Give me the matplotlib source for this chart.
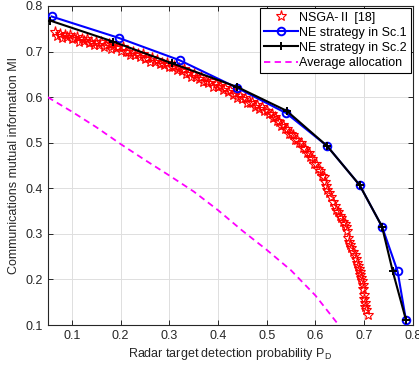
import numpy as np
import matplotlib
matplotlib.use("Agg")
import matplotlib.pyplot as plt

plt.rcParams["font.family"] = ["Liberation Sans", "Noto Sans CJK SC", "DejaVu Sans"]
plt.rcParams["mathtext.fontset"] = "custom"
plt.rcParams["mathtext.rm"] = "Liberation Sans"

# NSGA-II Pareto front (red stars)
nsga_x = [
    0.065, 0.070, 0.075, 0.080, 0.085, 0.090, 0.095, 0.100, 0.105, 0.110, 0.115, 0.120, 0.125,
    0.130, 0.135, 0.140, 0.145, 0.150, 0.155, 0.160, 0.165, 0.170, 0.175, 0.180, 0.185, 0.190,
    0.195, 0.200, 0.205, 0.210, 0.215, 0.220, 0.225, 0.230, 0.235, 0.240, 0.245, 0.250,
    0.255, 0.260, 0.265, 0.270, 0.275, 0.280, 0.285, 0.290, 0.295, 0.300, 0.305, 0.310,
    0.315, 0.320, 0.325, 0.330, 0.335, 0.340, 0.345, 0.350, 0.355, 0.360, 0.365,
    0.370, 0.375, 0.380, 0.385, 0.390, 0.395, 0.400, 0.405, 0.410, 0.415, 0.420,
    0.425, 0.430, 0.435, 0.440, 0.445, 0.450, 0.455, 0.460, 0.465, 0.470, 0.475,
    0.480, 0.485, 0.490, 0.495, 0.500, 0.505,
    0.510, 0.514, 0.518, 0.522, 0.526, 0.530, 0.534, 0.538, 0.542, 0.546, 0.550,
    0.554, 0.558, 0.562, 0.566, 0.570, 0.574, 0.578, 0.582, 0.586, 0.590, 0.594,
    0.598, 0.602, 0.606, 0.610, 0.614, 0.618, 0.620, 0.621,
    0.623, 0.628, 0.632, 0.636, 0.640, 0.643, 0.647, 0.650, 0.653, 0.657, 0.660, 0.663, 0.666,
    0.668, 0.670, 0.672, 0.674, 0.678, 0.681, 0.684, 0.686, 0.687, 0.689, 0.691,
    0.692, 0.693, 0.696, 0.697, 0.698, 0.700, 0.701, 0.702, 0.703, 0.704, 0.709,
]
nsga_y = [
    0.743, 0.735, 0.738, 0.730, 0.737, 0.731, 0.737, 0.727, 0.729, 0.731, 0.722, 0.728, 0.724,
    0.727, 0.719, 0.722, 0.715, 0.722, 0.715, 0.721, 0.711, 0.714, 0.716, 0.706, 0.712, 0.708,
    0.710, 0.701, 0.709, 0.700, 0.700, 0.693, 0.700, 0.693, 0.695, 0.687, 0.694, 0.684,
    0.686, 0.678, 0.685, 0.678, 0.682, 0.672, 0.676, 0.671, 0.676, 0.666, 0.667, 0.668,
    0.660, 0.664, 0.658, 0.662, 0.651, 0.654, 0.644, 0.651, 0.645, 0.640, 0.645,
    0.634, 0.636, 0.630, 0.635, 0.623, 0.628, 0.622, 0.624, 0.615, 0.621, 0.612,
    0.615, 0.605, 0.608, 0.598, 0.603, 0.596, 0.599, 0.587, 0.588, 0.589, 0.578,
    0.582, 0.575, 0.578, 0.569, 0.570, 0.562,
    0.564, 0.554, 0.557, 0.547, 0.545, 0.536, 0.539, 0.531, 0.531, 0.520, 0.519,
    0.517, 0.506, 0.507, 0.499, 0.500, 0.488, 0.487, 0.477, 0.478, 0.468, 0.465,
    0.453, 0.454, 0.442, 0.438, 0.427, 0.424, 0.414, 0.405,
    0.396, 0.389, 0.380, 0.370, 0.361, 0.352, 0.347, 0.340, 0.334, 0.326, 0.321, 0.314, 0.306,
    0.290, 0.282, 0.275, 0.268, 0.260, 0.253, 0.244, 0.236, 0.229, 0.224, 0.217,
    0.210, 0.204, 0.197, 0.188, 0.178, 0.166, 0.157, 0.148, 0.140, 0.133, 0.121,
]

# NE strategy, scenario 1 (blue circles)
ne1_x = [0.058, 0.196, 0.321, 0.438, 0.540, 0.624, 0.691, 0.737, 0.769, 0.786]
ne1_y = [0.777, 0.730, 0.681, 0.621, 0.565, 0.493, 0.407, 0.316, 0.218, 0.112]

# NE strategy, scenario 2 (black plus)
ne2_x = [0.055, 0.184, 0.306, 0.440, 0.541, 0.624, 0.691, 0.737, 0.759, 0.786]
ne2_y = [0.768, 0.722, 0.674, 0.622, 0.570, 0.493, 0.407, 0.316, 0.218, 0.112]

# Average allocation (magenta dashed)
avg_x = [0.05, 0.10, 0.15, 0.20, 0.25, 0.30, 0.35, 0.40, 0.45, 0.50, 0.55, 0.60, 0.648]
avg_y = [0.600, 0.568, 0.534, 0.497, 0.462, 0.428, 0.393, 0.352, 0.307, 0.265, 0.220, 0.165, 0.100]

xticks = [0.1, 0.2, 0.3, 0.4, 0.5, 0.6, 0.7, 0.8]
yticks = [0.1, 0.2, 0.3, 0.4, 0.5, 0.6, 0.7, 0.8]

dark = (0.15, 0.15, 0.15)

fig = plt.figure(figsize=(4.19, 3.72), dpi=100)
ax = fig.add_axes([0.1138, 0.1263, 0.8711, 0.8576])

ax.plot(nsga_x, nsga_y, linestyle="none", marker="*", markersize=8,
        markerfacecolor="none", markeredgecolor="red", markeredgewidth=0.8,
        label="NSGA-Ⅱ [18]", zorder=3)
ax.plot(ne1_x, ne1_y, color="blue", linewidth=1.5, marker="o", markersize=5.5,
        markerfacecolor="none", markeredgewidth=1.4, label="NE strategy in Sc.1", zorder=4)
ax.plot(ne2_x, ne2_y, color="black", linewidth=1.5, marker="+", markersize=6,
        markeredgewidth=1.4, label="NE strategy in Sc.2", zorder=5)
ax.plot(avg_x, avg_y, color="magenta", linewidth=1.3, linestyle=(0, (3.5, 2.4)),
        label="Average allocation", zorder=3)

ax.set_xlim(0.05, 0.8)
ax.set_ylim(0.1, 0.8)
ax.set_xticks(xticks)
ax.set_yticks(yticks)
ax.set_xticklabels([f"{v:.1f}" for v in xticks])
ax.set_yticklabels([f"{v:.1f}" for v in yticks])

ax.grid(True, color=(0.87, 0.87, 0.87), linewidth=0.7, zorder=0)
ax.set_axisbelow(True)
ax.tick_params(direction="in", length=3.5, width=0.7, colors=dark, labelsize=9,
               top=True, right=True, labelcolor=dark)
for sp in ax.spines.values():
    sp.set_color(dark)
    sp.set_linewidth(0.8)

ax.set_xlabel(r"Radar target detection probability P$_\mathregular{D}$", fontsize=9, color=dark, labelpad=3)
ax.set_ylabel("Communications mutual information MI", fontsize=9, color=dark, labelpad=4)

leg = ax.legend(loc="upper right", fontsize=9, fancybox=False, framealpha=1,
                edgecolor="black", borderaxespad=0.15, handlelength=2.7,
                handletextpad=0.15, labelspacing=0.25, borderpad=0.3)
leg.get_frame().set_linewidth(0.8)

fig.savefig("out.png", dpi=100)
